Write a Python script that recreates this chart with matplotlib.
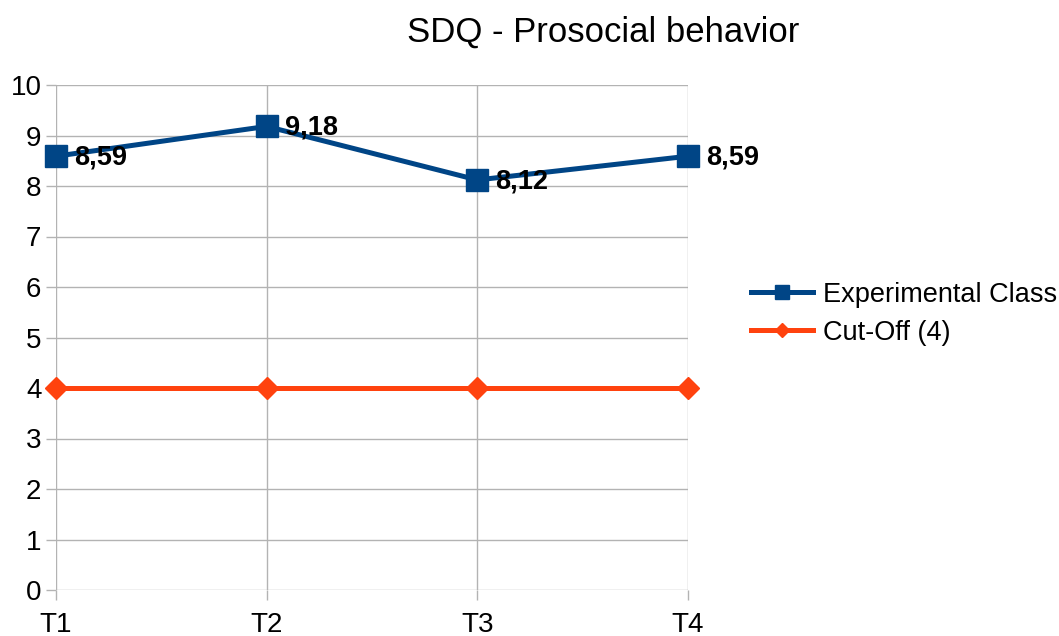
import matplotlib.pyplot as plt

plt.rcParams['font.family'] = ['Liberation Sans', 'DejaVu Sans']

# Data
periods = ["T1", "T2", "T3", "T4"]
experimental = [8.59, 9.18, 8.12, 8.59]
cutoff = [4, 4, 4, 4]
y_ticks = [0, 1, 2, 3, 4, 5, 6, 7, 8, 9, 10]

fig = plt.figure(figsize=(10.59, 6.36), dpi=100)
ax = fig.add_axes([56 / 1059, 46 / 636, 632 / 1059, 505 / 636])

x = list(range(len(periods)))

ax.plot(x, experimental, color="#004586", linewidth=3.6, marker="s",
        markersize=16, label="Experimental Class", zorder=4, clip_on=False)
ax.plot(x, cutoff, color="#ff420e", linewidth=3.6, marker="D",
        markersize=11, label="Cut-Off (4)", zorder=3, clip_on=False)

# Data labels
for xi, v in zip(x, experimental):
    ax.annotate(f"{v:.2f}".replace(".", ","), (xi, v), xytext=(13, -1),
                textcoords="offset points", va="center", ha="left",
                fontsize=19.5, fontweight="bold", zorder=5)

ax.set_xlim(0, len(periods) - 1)
ax.set_ylim(0, 10)
ax.set_xticks(x)
ax.set_xticklabels(periods)
ax.set_yticks(y_ticks)

ax.grid(True, color="#b3b3b3", linewidth=1)
ax.set_axisbelow(True)
for s in ax.spines.values():
    s.set_visible(False)
ax.tick_params(axis="both", colors="#b3b3b3", labelcolor="black",
               labelsize=20, length=7.5, width=1)
ax.tick_params(axis="x", pad=8)
ax.tick_params(axis="y", pad=3)

ax.set_title("SDQ - Prosocial behavior", fontsize=25,
             x=(603 - 56) / 632, pad=31)

ax.legend(loc="center left", bbox_to_anchor=(684 / 632, 0.547), frameon=False,
          fontsize=19.5, handlelength=2.3, handletextpad=0.35,
          labelspacing=0.45, borderaxespad=0, markerscale=0.65)

plt.savefig("out.png", dpi=100)
